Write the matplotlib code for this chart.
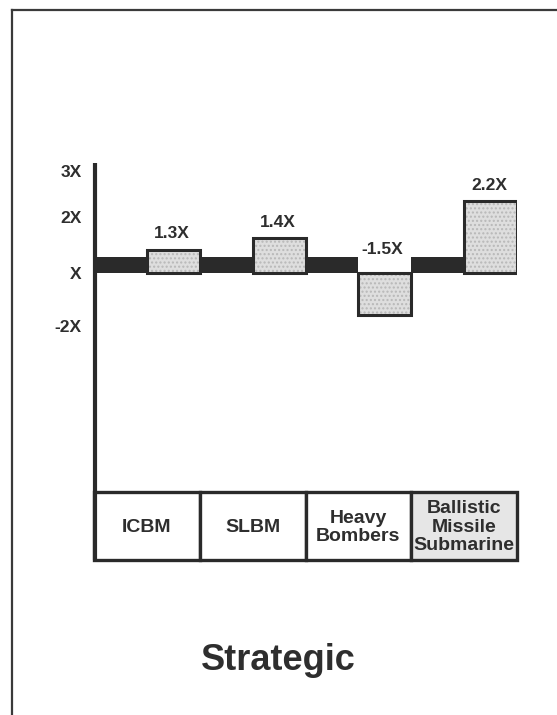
import matplotlib
matplotlib.use("Agg")
import matplotlib.pyplot as plt
from matplotlib.patches import Rectangle

plt.rcParams['font.family'] = ['Liberation Sans', 'DejaVu Sans']

# ---- data ----
categories = ["ICBM", "SLBM", "Heavy\nBombers", "Ballistic\nMissile\nSubmarine"]
value_labels = ["1.3X", "1.4X", "-1.5X", "2.2X"]
# bar heights in axis units (baseline X = 0, 2X = 1), as drawn in the chart
bar_heights = [0.41, 0.61, -0.75, 1.27]
band_height = 0.27
tick_values = [1.82, 1.0, 0.0, -0.95]
tick_labels = ["3X", "2X", "X", "-2X"]
title = "Strategic"

W, H = 557, 715
fig = plt.figure(figsize=(W / 100, H / 100), dpi=100)
fig.patch.set_facecolor("white")

# outer frame (left and top edges visible)
fig.add_artist(plt.Line2D([12 / W, 12 / W], [0, 1 - 10 / H], color="#3a3a3a", lw=1.6))
fig.add_artist(plt.Line2D([12 / W, 1], [1 - 10 / H, 1 - 10 / H], color="#3a3a3a", lw=1.6))

left_px, right_px, top_px, bot_px = 94, 517, 163, 560
ax = fig.add_axes([left_px / W, 1 - bot_px / H, (right_px - left_px) / W, (bot_px - top_px) / H])
ax.set_xlim(0, len(categories))
ax.set_ylim(-5.13, 1.955)
for s in ax.spines.values():
    s.set_visible(False)
ax.set_xticks([])
ax.set_yticks(tick_values)
ax.set_yticklabels(tick_labels)
ax.tick_params(axis="y", length=0, pad=9, labelsize=12.5, labelcolor="#2e2e2e")
for t in ax.get_yticklabels():
    t.set_fontweight("bold")

dark = "#2a2a2a"
n = len(categories)
xs = list(range(n))

# dark baseline band segments (left half of each column)
ax.bar([x for x in xs], [band_height] * n, width=0.5, align="edge", color=dark, zorder=2)

# bars (right half of each column): stippled fill then outline
bx = [x + 0.5 for x in xs]
ax.bar(bx, bar_heights, width=0.5, align="edge", color="#dedede", edgecolor="#b8b8b8",
       hatch="....", linewidth=0, zorder=3)
ax.bar(bx, bar_heights, width=0.5, align="edge", fill=False, edgecolor=dark,
       linewidth=2.2, zorder=4)

# value labels
for x, h, lab in zip(bx, bar_heights, value_labels):
    if h >= 0:
        ax.annotate(lab, (x + 0.25, h), xytext=(-1, 6), textcoords="offset points",
                    ha="center", va="bottom", fontsize=12.5, fontweight="bold", color="#2e2e2e")
    else:
        ax.annotate(lab, (x + 0.25, 0), xytext=(-2, 11), textcoords="offset points",
                    ha="center", va="bottom", fontsize=12.5, fontweight="bold", color="#2e2e2e")

# vertical axis line
ax.plot([0.01, 0.01], [1.955, -5.13], color=dark, lw=3, zorder=5, clip_on=False,
        solid_capstyle="butt")

# category table
tbl_top, tbl_bot = -3.92, -5.13
for i, cat in enumerate(categories):
    fc = "#e6e6e6" if i == n - 1 else "white"
    ax.add_patch(Rectangle((i, tbl_bot), 1, tbl_top - tbl_bot, facecolor=fc,
                           edgecolor=dark, lw=2.4, zorder=3, clip_on=False))
    ax.text(i + 0.5, (tbl_top + tbl_bot) / 2 - 0.02, cat, ha="center", va="center",
            fontsize=14, fontweight="bold", color="#2e2e2e", linespacing=1.1, zorder=6,
            clip_on=False)

fig.text(278 / W, 1 - 660 / H, title, ha="center", va="center", fontsize=26,
         fontweight="bold", color="#2e2e2e")

fig.savefig("out.png", dpi=100)
